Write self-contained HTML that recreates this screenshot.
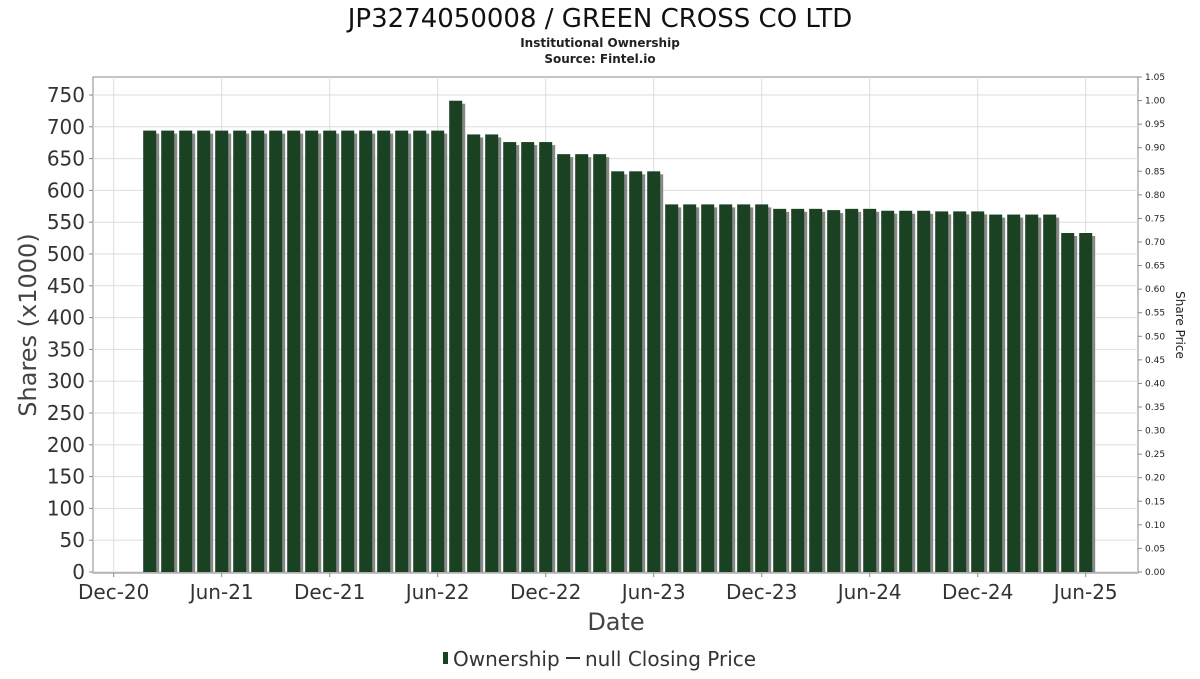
<!DOCTYPE html>
<html><head><meta charset="utf-8"><style>
body{margin:0;background:#fff;font-family:"DejaVu Sans","Liberation Sans",sans-serif;}
svg text{font-family:"DejaVu Sans","Liberation Sans",sans-serif;}
</style></head><body>
<svg id="chart" width="1200" height="675" xmlns="http://www.w3.org/2000/svg">
<text x="600" y="27" text-anchor="middle" font-size="26" fill="#111">JP3274050008 / GREEN CROSS CO LTD</text>
<text x="600" y="47" text-anchor="middle" font-size="12" font-weight="bold" fill="#222">Institutional Ownership</text>
<text x="600" y="63" text-anchor="middle" font-size="12" font-weight="bold" fill="#222">Source: Fintel.io</text>
<g id="grid"></g><g id="bars"></g><g id="axes"></g>
<text transform="translate(36,325) rotate(-90)" text-anchor="middle" font-size="24" fill="#444">Shares (x1000)</text>
<text transform="translate(1176,325) rotate(90)" text-anchor="middle" font-size="12" fill="#222">Share Price</text>
<text x="616" y="630" text-anchor="middle" font-size="24" fill="#444">Date</text>
<g>
<rect x="443" y="652" width="5" height="12" fill="#1a4222"/>
<text x="453" y="666" font-size="20" fill="#333">Ownership</text>
<line x1="566" y1="658" x2="580" y2="658" stroke="#333" stroke-width="2"/>
<text x="585" y="666" font-size="20" fill="#333">null Closing Price</text>
</g>
</svg>
<script>
const months = ["2021-02","2021-03","2021-04","2021-05","2021-06","2021-07","2021-08","2021-09","2021-10","2021-11","2021-12","2022-01","2022-02","2022-03","2022-04","2022-05","2022-06","2022-07","2022-08","2022-09","2022-10","2022-11","2022-12","2023-01","2023-02","2023-03","2023-04","2023-05","2023-06","2023-07","2023-08","2023-09","2023-10","2023-11","2023-12","2024-01","2024-02","2024-03","2024-04","2024-05","2024-06","2024-07","2024-08","2024-09","2024-10","2024-11","2024-12","2025-01","2025-02","2025-03","2025-04","2025-05","2025-06"];
const shares = [694,694,694,694,694,694,694,694,694,694,694,694,694,694,694,694,694,741,688,688,676,676,676,657,657,657,630,630,630,578,578,578,578,578,578,571,571,571,569,571,571,568,568,568,567,567,567,562,562,562,562,533,533];
const yTicks = [0,50,100,150,200,250,300,350,400,450,500,550,600,650,700,750];
const y2Ticks = ["0.00","0.05","0.10","0.15","0.20","0.25","0.30","0.35","0.40","0.45","0.50","0.55","0.60","0.65","0.70","0.75","0.80","0.85","0.90","0.95","1.00","1.05"];
const xTickLabels = ["Dec-20","Jun-21","Dec-21","Jun-22","Dec-22","Jun-23","Dec-23","Jun-24","Dec-24","Jun-25"];
const xTickMonths = ["2020-12","2021-06","2021-12","2022-06","2022-12","2023-06","2023-12","2024-06","2024-12","2025-06"];

const NS="http://www.w3.org/2000/svg";
const L=93,R=1138,T=77,B=573;
function mi(s){const [y,m]=s.split("-").map(Number);return y*12+m-1;}
const m0=mi("2020-12"), x0=113.7, pxm=18.0;
function xs(s){return x0+(mi(s)-m0)*pxm;}
function ys(v){return 572-v*(477/750);}
function y2s(v){return 572-v*(495/1.05);}
function mk(tag,attrs,parent){const e=document.createElementNS(NS,tag);for(const k in attrs)e.setAttribute(k,attrs[k]);parent.appendChild(e);return e;}
const grid=document.getElementById("grid"),bars=document.getElementById("bars"),axes=document.getElementById("axes");
mk("rect",{x:L,y:T,width:R-L,height:B-T,fill:"#fff",stroke:"#888","stroke-width":1},grid);
yTicks.forEach(v=>{
  const y=ys(v);
  const g=mk("line",{x1:L,x2:R,y1:y,y2:y,stroke:"#ddd","stroke-width":1},grid);
  
  
  mk("line",{x1:L-4,x2:L,y1:y,y2:y,stroke:"#888"},axes);
  const t=mk("text",{x:L-8,y:y+7,"text-anchor":"end","font-size":20,fill:"#333"},axes);
  t.textContent=v;
  
  
});
y2Ticks.forEach(s=>{
  const y=y2s(parseFloat(s));
  mk("line",{x1:R,x2:R+4,y1:y,y2:y,stroke:"#888"},axes);
  const t=mk("text",{x:R+7,y:y+3,"font-size":9,fill:"#222"},axes);
  t.textContent=s;
  
  
});
xTickMonths.forEach((m,i)=>{
  const x=xs(m);
  const g=mk("line",{x1:x,x2:x,y1:T,y2:B,stroke:"#ddd"},grid);
  
  
  mk("line",{x1:x,x2:x,y1:B,y2:B+4,stroke:"#888"},axes);
  const t=mk("text",{x:x,y:599,"text-anchor":"middle","font-size":20,fill:"#333"},axes);
  t.textContent=xTickLabels[i];
  
  
});
mk("line",{x1:L,x2:R,y1:B,y2:B,stroke:"#888"},axes);
months.forEach((m,i)=>{
  const cx=xs(m), y=ys(shares[i]), w=13;
  const s=mk("rect",{x:cx-w/2+3,y:y+3,width:w,height:572-y-3,fill:"#888"},bars);
  
  
  const b=mk("rect",{x:cx-w/2,y:y,width:w,height:572-y,fill:"#1a4222"},bars);
  
  
});
</script>
</body></html>
